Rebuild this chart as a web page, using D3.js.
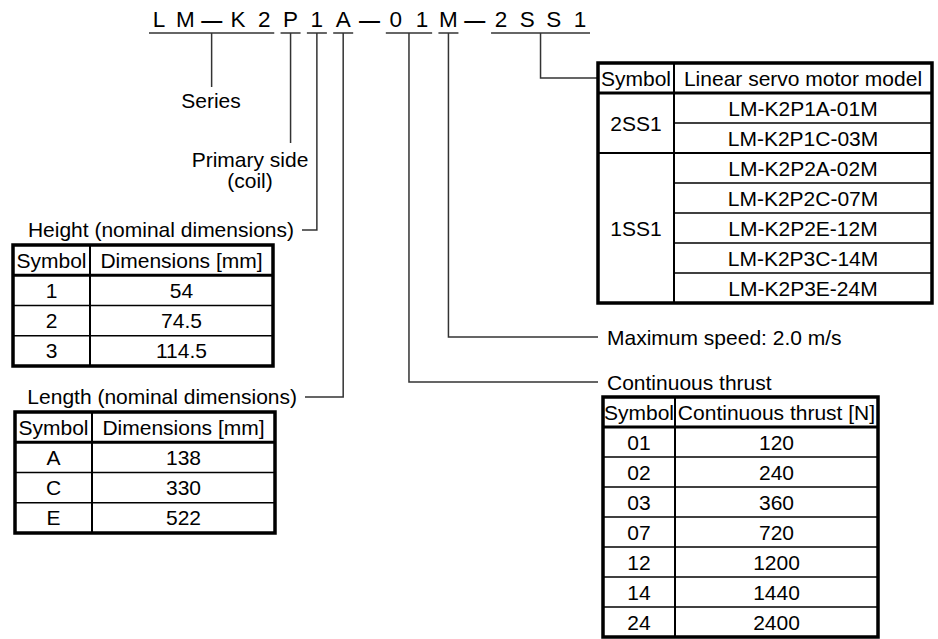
<!DOCTYPE html>
<html><head><meta charset="utf-8">
<script src="https://cdn.jsdelivr.net/npm/d3@7"></script>
<style>html,body{margin:0;padding:0;background:#fff}svg{display:block}</style>
</head><body><svg id="c" width="938" height="639"></svg>
<script>
// ---- data ----
const codeChars = ["L","M","—","K","2","P","1","A","—","0","1","M","—","2","S","S","1"];
const codeGroups = [[0,4],[5,5],[6,6],[7,7],[9,10],[11,11],[13,16]];
const heightHeader = ["Symbol","Dimensions [mm]"];
const heightSymbols = ["1","2","3"];
const heightDims = ["54","74.5","114.5"];
const lengthHeader = ["Symbol","Dimensions [mm]"];
const lengthSymbols = ["A","C","E"];
const lengthDims = ["138","330","522"];
const motorHeader = ["Symbol","Linear servo motor model"];
const motorSymbols = ["2SS1","1SS1"];
const motorGroupSizes = [2,5];
const motorModels = ["LM-K2P1A-01M","LM-K2P1C-03M","LM-K2P2A-02M","LM-K2P2C-07M","LM-K2P2E-12M","LM-K2P3C-14M","LM-K2P3E-24M"];
const thrustHeader = ["Symbol","Continuous thrust [N]"];
const thrustSymbols = ["01","02","03","07","12","14","24"];
const thrustValues = ["120","240","360","720","1200","1440","2400"];

// ---- drawing ----
const FONT = "'Liberation Sans', Arial, Helvetica, sans-serif";
const FS = 21;
const LINE = "#333";
const svg = d3.select("#c");
svg.append("rect").attr("width",938).attr("height",639).attr("fill","#fff");

const xCode = d3.scalePoint().domain(d3.range(codeChars.length)).range([159,580]);
svg.append("g").selectAll("text").data(codeChars).join("text")
  .attr("x",(d,i)=>xCode(i)).attr("y",27).attr("text-anchor","middle")
  .attr("font-family",FONT).attr("font-size",d=> d==="—" ? 21 : 22.5)
  .attr("font-weight",d=> d==="—" ? "bold" : "normal")
  .attr("fill","#000").text(d=>d);

// underlines + leaders
const leaders = [
  {endY:87, endX:null},
  {endY:143, endX:null},
  {endY:230, endX:302},
  {endY:397, endX:305},
  {endY:382, endX:598},
  {endY:337, endX:598},
  {endY:78, endX:598}
];
const lg = svg.append("g").attr("fill","none").attr("stroke",LINE).attr("stroke-width",1.5);
codeGroups.forEach((g,i)=>{
  const a = xCode(g[0]) - 10, b = xCode(g[1]) + 10;
  lg.append("line").attr("x1",a).attr("x2",b).attr("y1",33).attr("y2",33);
  const cx = (xCode(g[0]) + xCode(g[1]))/2;
  const L = leaders[i];
  let p = `M${cx},33V${L.endY}`;
  if (L.endX !== null) p += `H${L.endX}`;
  lg.append("path").attr("d",p);
});

function label(txt, x, y, anchor){
  svg.append("text").attr("x",x).attr("y",y).attr("text-anchor",anchor||"start")
    .attr("font-family",FONT).attr("font-size",FS).attr("fill","#000").text(txt);
}
label("Series", 211, 108, "middle");
label("Primary side", 250, 167, "middle");
label("(coil)", 250, 188, "middle");
label("Height (nominal dimensions)", 294, 237, "end");
label("Length (nominal dimensions)", 297, 404, "end");
label("Maximum speed: 2.0 m/s", 607, 345, "start");
label("Continuous thrust", 607, 390, "start");

function table(cols, ys, header, symbols, values, groups){
  const g = svg.append("g");
  const n = values.length + 1;
  const y = d3.scaleBand().domain(d3.range(n)).range(ys);
  const h = y.bandwidth();
  const [xl, xm, xr] = cols;
  const txt = (t, x, cy) => g.append("text").attr("x",x).attr("y",cy + 7.5)
     .attr("text-anchor","middle").attr("font-family",FONT).attr("font-size",FS).attr("fill","#000").text(t);
  txt(header[0], (xl+xm)/2, y(0)+h/2);
  txt(header[1], (xm+xr)/2, y(0)+h/2);
  values.forEach((v,i)=> txt(v, (xm+xr)/2, y(i+1)+h/2));
  const sizes = groups || values.map(()=>1);
  let start = 1;
  const bounds = new Set();
  sizes.forEach((s,gi)=>{
    const top = y(start), bot = y(start + s - 1) + h;
    txt(symbols[gi], (xl+xm)/2, (top+bot)/2);
    if (start > 1) bounds.add(start);
    start += s;
  });
  for (let i = 2; i < n; i++){
    const full = bounds.has(i);
    g.append("line").attr("x1", full ? xl : xm).attr("x2", xr)
      .attr("y1", y(i)).attr("y2", y(i)).attr("stroke","#000")
      .attr("stroke-width", groups && full ? 2.2 : 1.6);
  }
  g.append("line").attr("x1",xm).attr("x2",xm).attr("y1",ys[0]).attr("y2",ys[1])
    .attr("stroke","#000").attr("stroke-width",2);
  g.append("line").attr("x1",xl).attr("x2",xr).attr("y1",y(1)).attr("y2",y(1))
    .attr("stroke","#000").attr("stroke-width",3);
  g.append("rect").attr("x",xl).attr("y",ys[0]).attr("width",xr-xl).attr("height",ys[1]-ys[0])
    .attr("fill","none").attr("stroke","#000").attr("stroke-width",3.5);
}

table([13,90,273],[245,366],heightHeader,heightSymbols,heightDims);
table([15,92,275],[412,533],lengthHeader,lengthSymbols,lengthDims);
table([598,674,932],[63,303],motorHeader,motorSymbols,motorModels,motorGroupSizes);
table([603,675,878],[397,637],thrustHeader,thrustSymbols,thrustValues);
</script></body></html>
